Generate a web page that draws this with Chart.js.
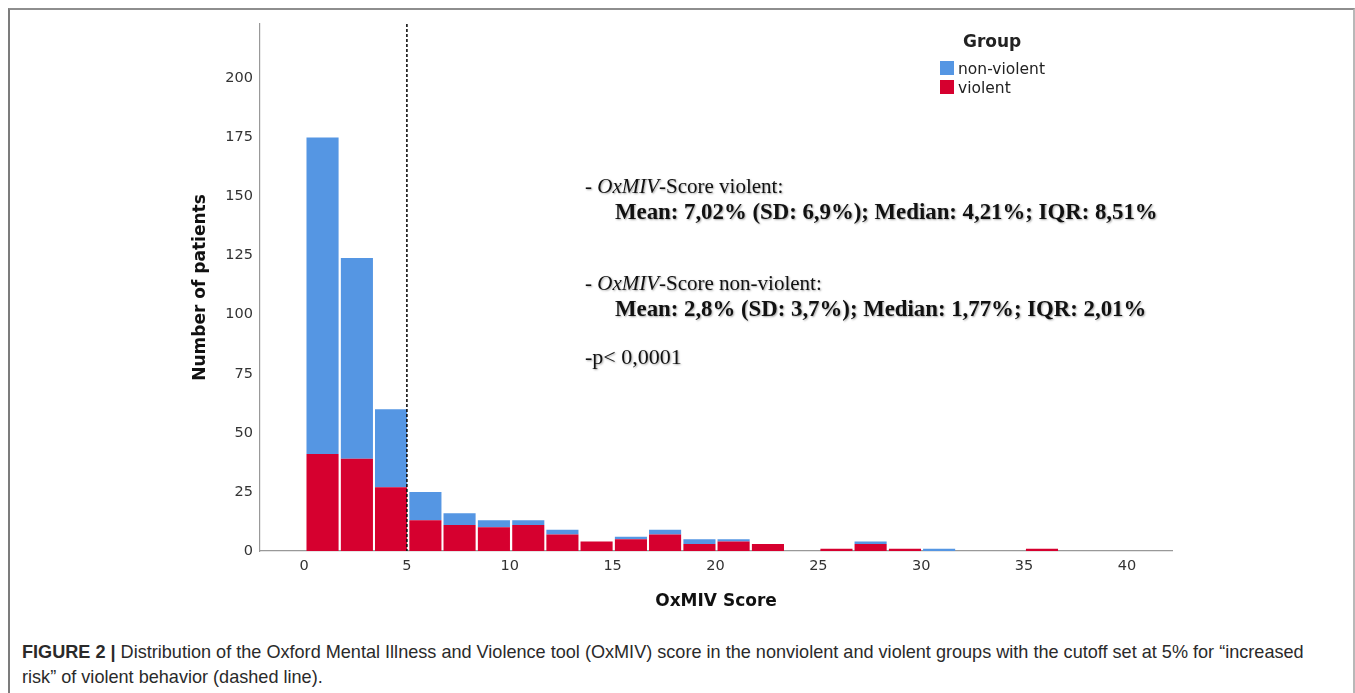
<!DOCTYPE html>
<html>
<head>
<meta charset="utf-8">
<script src="https://cdn.jsdelivr.net/npm/chart.js@4.4.1/dist/chart.umd.min.js"></script>
<style>
html, body { margin:0; padding:0; background:#fff; overflow:hidden; }
#frame { position:absolute; left:8px; top:8px; width:1343px; height:720px;
  border-top:2px solid #8e8e8e; border-left:2px solid #7c7c7c; border-right:2px solid #b8b8b8; }
#wrap { position:absolute; left:0; top:0; width:1355px; height:620px; }
.txt { position:absolute; white-space:nowrap; }
.stats { font-family:"Liberation Serif", serif; font-size:21px; line-height:24px; color:#111;
  text-shadow:1px 1px 2px rgba(0,0,0,0.35); }
.stats.bold { font-size:22.8px; font-weight:bold; }
#legend { font-family:"DejaVu Sans", sans-serif; color:#222; }
.lgTitle { position:absolute; font-weight:bold; font-size:17px; line-height:20px; }
.lgItem { position:absolute; font-size:15.5px; line-height:18px; }
.lgBox { position:absolute; width:14px; height:14px; }
#caption { position:absolute; left:22px; top:640px; font-family:"Liberation Sans", Arial, sans-serif;
  font-size:18.1px; line-height:25px; color:#2a2a2a; white-space:nowrap; }
</style>
</head>
<body>
<div id="frame"></div>
<div id="wrap"><canvas id="histo"></canvas></div>

<div class="txt stats" style="left:585px; top:174px;">- <i>OxMIV</i>-Score violent:</div>
<div class="txt stats bold" style="left:615px; top:200px;">Mean: 7,02% (SD: 6,9%); Median: 4,21%; IQR: 8,51%</div>
<div class="txt stats" style="left:585px; top:271px;">- <i>OxMIV</i>-Score non-violent:</div>
<div class="txt stats bold" style="left:615px; top:297px;">Mean: 2,8% (SD: 3,7%); Median: 1,77%; IQR: 2,01%</div>
<div class="txt stats" style="left:585px; top:345px; font-size:22px;">-p&lt; 0,0001</div>

<div id="legend"></div>

<div id="caption"><b>FIGURE 2 |</b> Distribution of the Oxford Mental Illness and Violence tool (OxMIV) score in the nonviolent and violent groups with the cutoff set at 5% for “increased<br>risk” of violent behavior (dashed line).</div>

<script>
// histogram bins (centre of each OxMIV score bin)
var binCentres = [0.9, 2.57, 4.23, 5.9, 7.56, 9.23, 10.9, 12.56, 14.22, 15.89, 17.55,
                  19.22, 20.88, 22.55, 24.21, 25.88, 27.54, 29.21, 30.87, 32.54, 34.2, 35.87];
// patients per bin
var violent    = [41, 39, 27, 13, 11, 10, 11, 7, 4, 5, 7, 3, 4, 3, 0, 1, 3, 1, 0, 0, 0, 1];
var nonViolent = [134, 85, 33, 12, 5, 3, 2, 2, 0, 1, 2, 2, 1, 0, 0, 0, 1, 0, 1, 0, 0, 0];
var groupNames = ['non-violent', 'violent'];
var groupColors = ['#5596E3', '#D6002F'];
var xTicks = [0, 5, 10, 15, 20, 25, 30, 35, 40];
var yTicks = [0, 25, 50, 75, 100, 125, 150, 175, 200];
var CUTOFF = 5;

function toPoints(vals){
    var pts = [];
    for (var i = 0; i < vals.length; i++) {
        pts.push({x: binCentres[i], y: vals[i]});
    }
    return pts;
}

var cutoffLine = {
    id: 'cutoffLine',
    afterDatasetsDraw: function(chart){
        var ctx = chart.ctx;
        var x = chart.scales.x.getPixelForValue(CUTOFF);
        ctx.save();
        ctx.beginPath();
        ctx.setLineDash([3, 2]);
        ctx.lineWidth = 1.6;
        ctx.strokeStyle = '#111';
        ctx.moveTo(x, chart.chartArea.top);
        ctx.lineTo(x, chart.chartArea.bottom);
        ctx.stroke();
        ctx.restore();
    }
};

var tickFont = {family: 'DejaVu Sans', size: 14.5};
var titleFont = {family: 'DejaVu Sans', size: 17, weight: 'bold'};

var chart = new Chart(document.getElementById('histo'), {
    type: 'bar',
    data: {
        datasets: [
            {
                label: groupNames[1],
                data: toPoints(violent),
                backgroundColor: groupColors[1],
                borderWidth: 0
            },
            {
                label: groupNames[0],
                data: toPoints(nonViolent),
                backgroundColor: groupColors[0],
                borderWidth: 0
            }
        ]
    },
    options: {
        responsive: true,
        maintainAspectRatio: false,
        animation: false,
        barPercentage: 0.94,
        categoryPercentage: 1,
        layout: { padding: {left: 190, right: 183, top: 24, bottom: 8} },
        plugins: {
            legend: { display: false },
            tooltip: { enabled: false }
        },
        scales: {
            x: {
                type: 'linear',
                stacked: true,
                offset: false,
                min: -2.14,
                max: 42.19,
                grid: { display: false, drawTicks: false, offset: false },
                border: { color: '#999', width: 1.2 },
                afterBuildTicks: function(scale){
                    scale.ticks = xTicks.map(function(v){ return {value: v}; });
                },
                afterFit: function(scale){ scale.height = 61; },
                ticks: { font: tickFont, color: '#333', padding: 7, maxRotation: 0, autoSkip: false },
                title: { display: true, text: 'OxMIV Score', font: titleFont, color: '#111', padding: 0 }
            },
            y: {
                stacked: true,
                min: 0,
                max: 223,
                grid: { display: false, drawTicks: false },
                border: { color: '#999', width: 1.2 },
                afterBuildTicks: function(scale){
                    scale.ticks = yTicks.map(function(v){ return {value: v}; });
                },
                afterFit: function(scale){ scale.width = 70; },
                ticks: { font: tickFont, color: '#333', padding: 7 },
                title: { display: true, text: 'Number of patients', font: titleFont, color: '#111', padding: 0 }
            }
        }
    },
    plugins: [cutoffLine]
});

// legend in the top right corner of the plot
var lg = document.getElementById('legend');
var html = '<div class="lgTitle" style="left:963px; top:31px;">Group</div>';
for (var i = 0; i < groupNames.length; i++) {
    var boxTop = 61 + i * 19;
    html += '<div class="lgBox" style="left:940px; top:' + boxTop + 'px; background:' + groupColors[i] + ';"></div>';
    html += '<div class="lgItem" style="left:958px; top:' + (boxTop - 1) + 'px;">' + groupNames[i] + '</div>';
}
lg.innerHTML = html;
</script>
</body>
</html>
